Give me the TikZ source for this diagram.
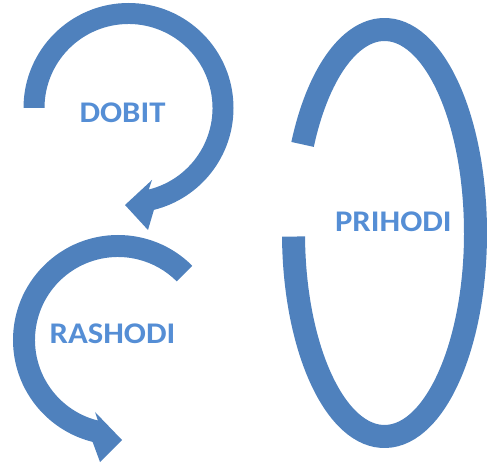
\documentclass[tikz,border=0pt]{standalone}
\usepackage{fontspec}
\setmainfont{Carlito}
\definecolor{shapeblue}{HTML}{4F81BD}
\definecolor{txtblue}{HTML}{558ED5}
\tikzset{
  arrowshape/.style={fill=shapeblue, draw=none},
  ringshape/.style={draw=shapeblue, line width=23pt},
  lbl/.style={inner sep=0pt, text=txtblue, font=\fontsize{30}{30}\selectfont\bfseries}
}
\begin{document}
\begin{tikzpicture}[x=1pt,y=1pt]
\useasboundingbox (0,0) rectangle (487,463);
\coordinate (C1) at (128.5,355);
\coordinate (C2) at (118,123);
\coordinate (E) at (384.5,230);
% top arrow (DOBIT)
\fill[arrowshape] ([shift={(180:84pt)}]C1) -- ([shift={(180:105pt)}]C1)
  arc[start angle=180,end angle=-76,radius=105pt]
  -- (148,233) -- (125,258) -- (152,283)
  -- ([shift={(-76:84pt)}]C1)
  arc[start angle=-76,end angle=180,radius=84pt] -- cycle;
% bottom arrow (RASHODI)
\fill[arrowshape] ([shift={(45:83pt)}]C2) -- ([shift={(45:105pt)}]C2)
  arc[start angle=45,end angle=256,radius=105pt]
  -- (100,1) -- (122,23) -- (95,51)
  -- ([shift={(256:83pt)}]C2)
  arc[start angle=256,end angle=45,radius=83pt] -- cycle;
% ellipse ring (PRIHODI)
\draw[ringshape] ([shift={(181:91pt and 203.5pt)}]E)
  arc[start angle=181,end angle=514.2,x radius=91pt,y radius=203.5pt];
\node[lbl] (dobit) at (122.5,350) {\scalebox{1.09}[1]{DOBIT}};
\node[lbl] (rashodi) at (112.5,129) {\scalebox{1.09}[1]{RASHODI}};
\node[lbl] (prihodi) at (393.4,241) {\scalebox{1.09}[1]{PRIHODI}};
\end{tikzpicture}
\end{document}
